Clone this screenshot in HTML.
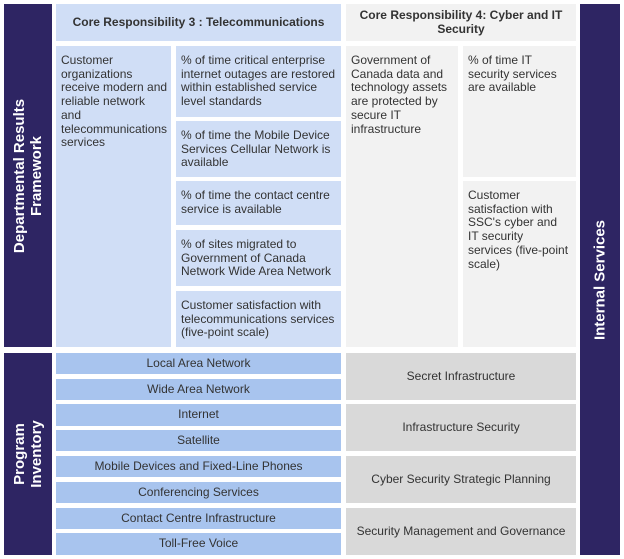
<!DOCTYPE html>
<html><head><meta charset="utf-8"><style>
html,body{margin:0;padding:0;background:#fff;}
body{width:624px;height:559px;position:relative;overflow:hidden;font-family:"Liberation Sans",Arial,sans-serif;font-size:12px;color:#333;}
.b{position:absolute;box-sizing:border-box;line-height:13.7px;white-space:nowrap;}
.lb{background:#d0def6;}
.gr{background:#f2f2f2;}
.dk{background:#2e2563;color:#fff;font-weight:bold;font-size:15px;}
.pb{background:#a8c4ee;text-align:center;line-height:21px;}
.pg{background:#d9d9d9;display:flex;align-items:center;justify-content:center;}
.t{padding:8px 5px;}
.hd{font-weight:bold;display:flex;align-items:center;justify-content:center;text-align:center;}
.v{position:absolute;left:50%;top:50%;transform:translate(-50%,-50%) rotate(-90deg);white-space:nowrap;text-align:center;line-height:17px;}
</style></head><body>
<div class="b dk" style="left:4px;top:4px;width:48px;height:343px;"><div class="v">Departmental Results<br>Framework</div></div>
<div class="b dk" style="left:4px;top:353px;width:48px;height:202px;"><div class="v">Program<br>Inventory</div></div>
<div class="b dk" style="left:580px;top:4px;width:40px;height:551px;"><div class="v" style="top:50%">Internal Services</div></div>

<div class="b lb hd" style="left:56px;top:4px;width:285px;height:37px;">Core Responsibility 3 : Telecommunications</div>
<div class="b gr hd" style="left:346px;top:4px;width:230px;height:37px;">Core Responsibility 4: Cyber and IT<br>Security</div>

<div class="b lb t" style="left:56px;top:46px;width:115px;height:301px;">Customer<br>organizations<br>receive modern and<br>reliable network<br>and<br>telecommunications<br>services</div>
<div class="b lb t" style="left:176px;top:46px;width:165px;height:71px;">% of time critical enterprise<br>internet outages are restored<br>within established service<br>level standards</div>
<div class="b lb t" style="left:176px;top:121px;width:165px;height:56px;">% of time the Mobile Device<br>Services Cellular Network is<br>available</div>
<div class="b lb t" style="left:176px;top:181px;width:165px;height:44px;">% of time the contact centre<br>service is available</div>
<div class="b lb t" style="left:176px;top:230px;width:165px;height:56px;">% of sites migrated to<br>Government of Canada<br>Network Wide Area Network</div>
<div class="b lb t" style="left:176px;top:291px;width:165px;height:56px;">Customer satisfaction with<br>telecommunications services<br>(five-point scale)</div>

<div class="b gr t" style="left:346px;top:46px;width:112px;height:301px;">Government of<br>Canada data and<br>technology assets<br>are protected by<br>secure IT<br>infrastructure</div>
<div class="b gr t" style="left:463px;top:46px;width:113px;height:131px;">% of time IT<br>security services<br>are available</div>
<div class="b gr t" style="left:463px;top:181px;width:113px;height:166px;">Customer<br>satisfaction with<br>SSC's cyber and<br>IT security<br>services (five-point<br>scale)</div>

<div class="b pb" style="left:56px;top:353px;width:285px;height:21px;">Local Area Network</div>
<div class="b pb" style="left:56px;top:379px;width:285px;height:21px;">Wide Area Network</div>
<div class="b pb" style="left:56px;top:404px;width:285px;height:22px;">Internet</div>
<div class="b pb" style="left:56px;top:430px;width:285px;height:21px;">Satellite</div>
<div class="b pb" style="left:56px;top:456px;width:285px;height:21px;">Mobile Devices and Fixed-Line Phones</div>
<div class="b pb" style="left:56px;top:482px;width:285px;height:21px;">Conferencing Services</div>
<div class="b pb" style="left:56px;top:508px;width:285px;height:21px;">Contact Centre Infrastructure</div>
<div class="b pb" style="left:56px;top:533px;width:285px;height:22px;">Toll-Free Voice</div>

<div class="b pg" style="left:346px;top:353px;width:230px;height:47px;">Secret Infrastructure</div>
<div class="b pg" style="left:346px;top:404px;width:230px;height:47px;">Infrastructure Security</div>
<div class="b pg" style="left:346px;top:456px;width:230px;height:47px;">Cyber Security Strategic Planning</div>
<div class="b pg" style="left:346px;top:508px;width:230px;height:47px;">Security Management and Governance</div>
</body></html>
